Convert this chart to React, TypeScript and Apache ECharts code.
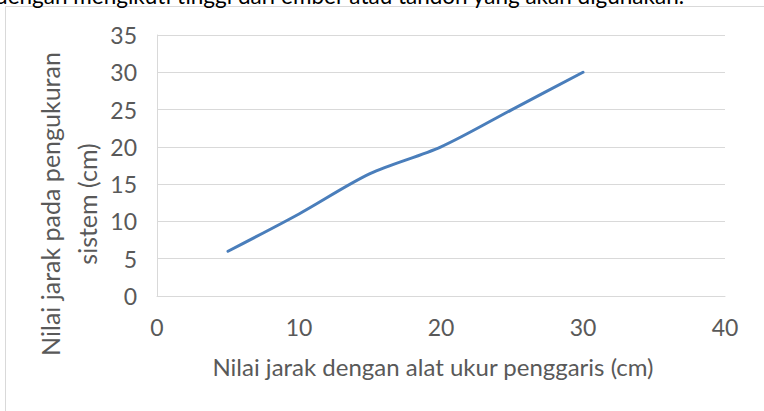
import React, { useEffect, useRef } from "react";
import * as echarts from "echarts";

const xValues = [5, 10, 15, 20, 25, 30];
const yValues = [6, 11, 16.4, 20, 25, 30];
const xTitle = "Nilai jarak dengan alat ukur penggaris (cm)";
const yTitle = "Nilai jarak pada pengukuran\nsistem (cm)";
const topText = "dengan mengikuti tinggi dari ember atau tandon yang akan digunakan.";

const FONT = "Lato";
const GRAY = "#595959";

export default function App() {
  const ref = useRef<HTMLDivElement>(null);
  useEffect(() => {
    if (!ref.current) return;
    const chart = echarts.init(ref.current, null, { renderer: "svg" });
    chart.setOption({
      animation: false,
      backgroundColor: "#ffffff",
      grid: { left: 157, right: 39, top: 35, bottom: 115, containLabel: false },
      xAxis: {
        type: "value",
        min: 0,
        max: 40,
        interval: 10,
        name: xTitle,
        nameLocation: "middle",
        nameGap: 58,
        nameTextStyle: { color: GRAY, fontFamily: FONT, fontSize: 24, padding: [0, 16, 0, 0] },
        axisLine: { show: true, lineStyle: { color: "#d9d9d9", width: 1 } },
        axisTick: { show: false },
        splitLine: { show: false },
        axisLabel: { color: GRAY, fontFamily: FONT, fontSize: 23, margin: 19 },
      },
      yAxis: {
        type: "value",
        min: 0,
        max: 35,
        interval: 5,
        axisLine: { show: true, lineStyle: { color: "#d9d9d9", width: 1 } },
        axisTick: { show: false },
        splitLine: { show: true, lineStyle: { color: "#d9d9d9", width: 1 } },
        axisLabel: { color: GRAY, fontFamily: FONT, fontSize: 23, margin: 20 },
      },
      series: [
        {
          type: "line",
          data: xValues.map((x, i) => [x, yValues[i]]),
          smooth: 0.3,
          showSymbol: false,
          symbol: "none",
          lineStyle: { color: "#4A7EBB", width: 3, cap: "round" },
        },
      ],
      graphic: [
        {
          type: "rect",
          shape: { x: 5.5, y: 6.5, width: 800, height: 420 },
          style: { fill: "none", stroke: "#d9d9d9", lineWidth: 1 },
          silent: true,
        },
        {
          type: "text",
          x: 684,
          y: 7,
          style: {
            text: topText,
            fill: "#000000",
            font: `22.5px ${FONT}`,
            align: "right",
            verticalAlign: "bottom",
          },
          silent: true,
        },
        {
          type: "text",
          x: 68,
          y: 204,
          rotation: Math.PI / 2,
          style: {
            text: yTitle,
            fill: GRAY,
            font: `25px ${FONT}`,
            lineHeight: 37,
            align: "center",
            verticalAlign: "middle",
          },
          silent: true,
        },
      ],
    });
    return () => chart.dispose();
  }, []);
  return (
    <div
      ref={ref}
      style={{ position: "absolute", left: 0, top: 0, width: 764, height: 411 }}
    />
  );
}
